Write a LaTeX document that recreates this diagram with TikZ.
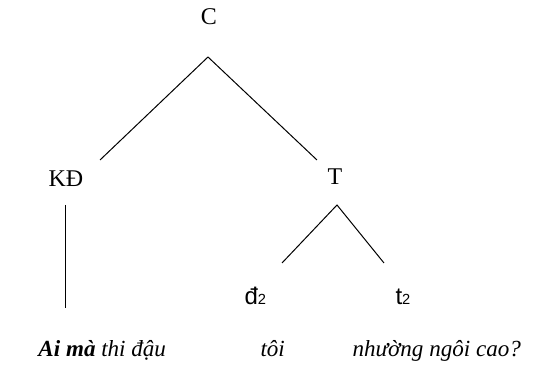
\documentclass[tikz,border=0pt]{standalone}
\usepackage{fontspec}
\setmainfont{Liberation Serif}
\newfontfamily\subfont{Liberation Sans}
\usetikzlibrary{calc}

\begin{document}
\begin{tikzpicture}[x=0.75pt,y=-0.75pt,line width=0.75pt,
	lbl/.style={font=\fontsize{18}{21}\selectfont, inner sep=0pt},
	word/.style={font=\fontsize{17.3}{20}\selectfont\itshape, inner sep=0pt, anchor=base west}]
		%%%%% START %%%%%
		\useasboundingbox (0, 0) rectangle (544, 374);
		
		\node[lbl] (c) at (209, 17) {C};
		\node[lbl] (kd) at (66, 179) {KĐ};
		\node[lbl] (t) at (335, 177) {T};
		\node[lbl, anchor=base west] (d2) at (244, 305) {\subfont đ\fontsize{11}{12}\selectfont2};
		\node[lbl, anchor=base west] (t2) at (395, 305) {\subfont t\fontsize{11}{12}\selectfont2};
		
		\coordinate (c top) at (208, 57);
		\coordinate (c left) at (100, 160);
		\coordinate (c right) at (317, 160);
		\draw (c left) -- (c top) -- (c right);
		
		\coordinate (kd top) at (65, 205);
		\coordinate (kd bot) at (65, 308);
		\draw (kd top) -- (kd bot);
		
		\coordinate (t top) at (337, 205);
		\coordinate (t left) at (282, 263);
		\coordinate (t right) at (384, 263);
		\draw (t left) -- (t top) -- (t right);
		
		\node[word] (ai) at (38, 357) {\textbf{Ai mà} thi đậu};
		\node[word] (toi) at (260, 357) {tôi};
		\node[word] (nhuong) at (352, 357) {nhường ngôi cao?};
		
		%%%%% END %%%%%
	\end{tikzpicture}
\end{document}
